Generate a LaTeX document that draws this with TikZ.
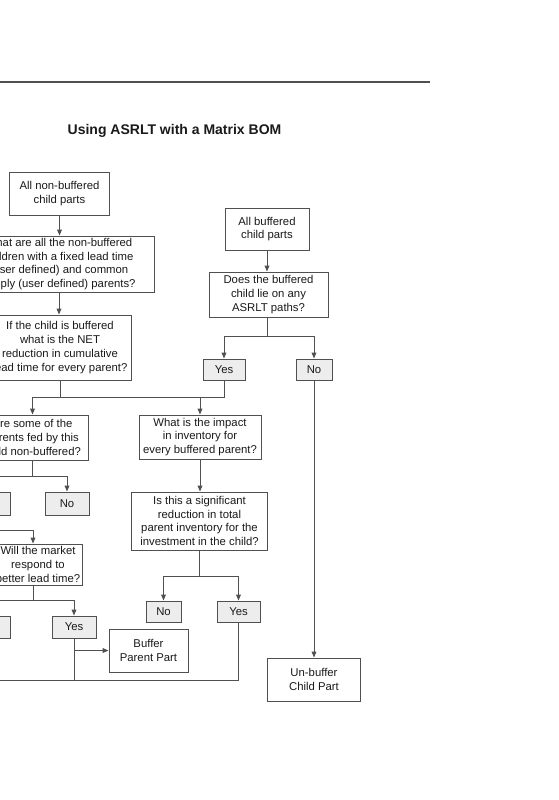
\documentclass[tikz,border=0pt]{standalone}
\usepackage{fontspec}
\setmainfont{Liberation Sans}
\usetikzlibrary{arrows.meta}
\definecolor{lnc}{HTML}{505050}
\definecolor{txc}{HTML}{1A1A1A}
\definecolor{ynf}{HTML}{EDEDED}
\begin{document}
\begin{tikzpicture}[x=0.75pt,y=-0.75pt,
  box/.style args={#1/#2}{draw=lnc, line width=0.75pt, fill=white, minimum width=#1*0.75pt, minimum height=#2*0.75pt, inner sep=0pt, align=center, font=\fontsize{8.5}{10.4}\selectfont, text=txc},
  ynbox/.style args={#1/#2}{box={#1/#2}, fill=ynf},
  conn/.style={draw=lnc, line width=0.75pt},
  arr/.style={conn, -{Triangle[length=4.5pt,width=3.6pt]}}]
\path[use as bounding box, fill=white] (0,0) rectangle (559,800);
\clip (0,0) rectangle (559,800);
% top rule and title
\draw[draw=lnc, line width=0.85pt] (0,82) -- (430,82);
\node[font=\bfseries\fontsize{10.5}{12}\selectfont, text=txc] (title) at (174.5,131) {Using ASRLT with a Matrix BOM};
% left column
\node[box={100/43}] (anb) at (59.5,193.5) {All non-buffered\\child parts};
\node[box={190/56}] (q1) at (59,264) {What are all the non-buffered\\children with a fixed lead time\\(user defined) and common\\supply (user defined) parents?};
\node[box={142/65}] (q2) at (60,347.5) {If the child is buffered\\what is the NET\\reduction in cumulative\\lead time for every parent?};
\node[box={112/45}] (q3) at (32.5,437.5) {Are some of the\\parents fed by this\\child non-buffered?};
\node[ynbox={44/23}] (y1) at (-12,503.5) {};
\node[ynbox={44/23}] (n1) at (67,503.5) {No};
\node[box={88/41}] (q4) at (38,564.5) {Will the market\\respond to\\better lead time?};
\node[ynbox={44/22}] (n2) at (-12,627) {};
\node[ynbox={44/22}] (y2) at (74,627) {Yes};
\node[box={79/43}] (bpp) at (148.5,650.5) {Buffer\\Parent Part};
% right column
\node[box={84/42}] (ab) at (267,229) {All buffered\\child parts};
\node[box={119/45}] (does) at (268.5,294.5) {Does the buffered\\child lie on any\\ASRLT paths?};
\node[ynbox={42/21}] (ybuf) at (224,369.5) {Yes};
\node[ynbox={36/21}] (nbuf) at (314,369.5) {No};
\node[box={122/44}] (imp) at (200,437) {What is the impact\\in inventory for\\every buffered parent?};
\node[box={136/58}] (sig) at (199.5,521) {Is this a significant\\reduction in total\\parent inventory for the\\investment in the child?};
\node[ynbox={35/21}] (nsig) at (163.5,611.5) {No};
\node[ynbox={43/21}] (ysig) at (238.5,611.5) {Yes};
\node[box={93/43}] (unb) at (314,679.5) {Un-buffer\\Child Part};
% connectors left
\draw[arr] (anb.south) -- (anb.south |- q1.north);
\draw[arr] (q1.south) -- (q1.south |- q2.north);
\coordinate (j1) at (0,397);
\draw[conn] (q2.south) -- (q2.south |- j1);
\draw[arr] (ybuf.south) |- (q3.north |- j1) -- (q3.north);
\draw[arr] (imp.north |- j1) -- (imp.north);
\coordinate (j2) at (0,476);
\draw[arr] (q3.south) |- (n1.north |- j2) -- (n1.north);
\draw[arr] (q3.south |- j2) -| (y1.north);
\coordinate (j3) at (33,530);
\draw[arr] (y1.south) |- (j3) -- (j3 |- q4.north);
\coordinate (j4) at (33,600);
\draw[conn] (j4 |- q4.south) -- (j4);
\draw[arr] (j4) -| (y2.north);
\draw[arr] (j4) -| (n2.north);
\draw[arr] (y2.south |- bpp.west) -- (bpp.west);
\coordinate (j5) at (-40,680);
\draw[conn] (y2.south) -- (y2.south |- j5);
\draw[conn] (ysig.south) |- (j5);
% connectors right
\draw[arr] (ab.south) -- (ab.south |- does.north);
\coordinate (j6) at (267,336);
\draw[conn] (ab.south |- does.south) -- (j6);
\draw[arr] (j6) -| (ybuf.north);
\draw[arr] (j6) -| (nbuf.north);
\draw[arr] (nbuf.south) -- (unb.north);
\draw[arr] (imp.south) -- (imp.south |- sig.north);
\coordinate (j7) at (199.5,576);
\draw[conn] (sig.south) -- (j7);
\draw[arr] (j7) -| (nsig.north);
\draw[arr] (j7) -| (ysig.north);
\end{tikzpicture}
\end{document}
